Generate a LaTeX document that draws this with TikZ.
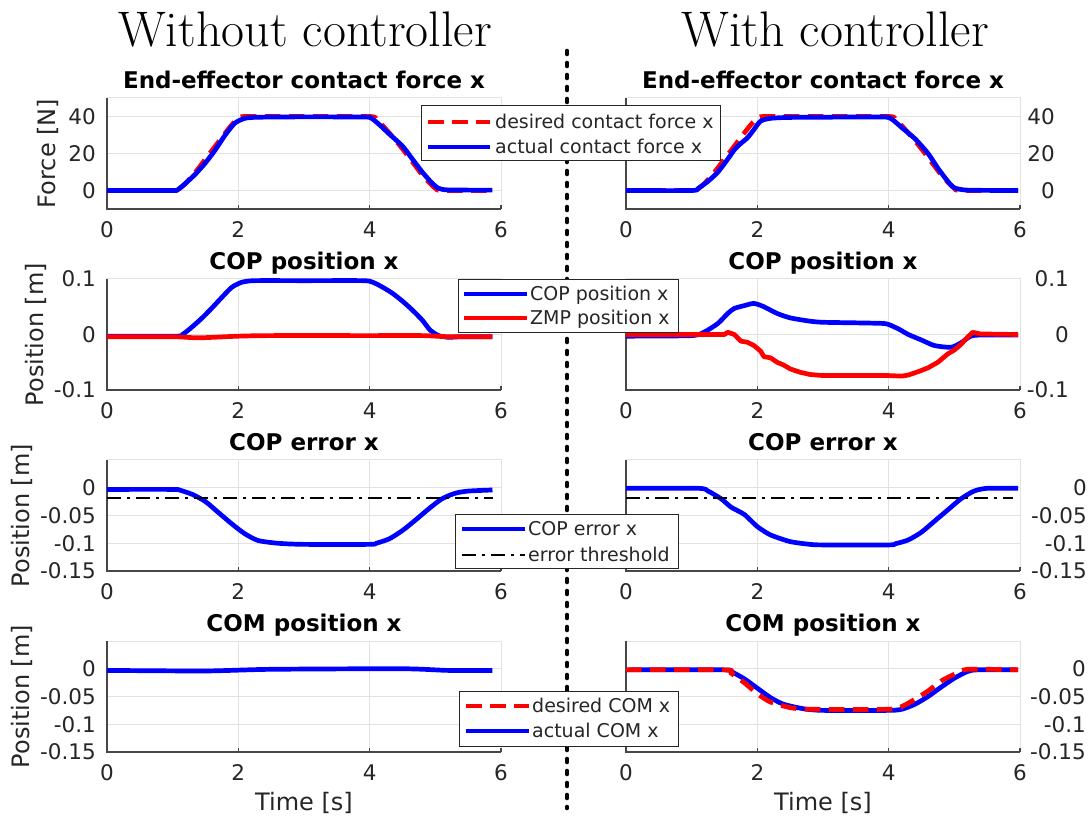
\documentclass[tikz,border=0pt]{standalone}
\usepackage{fontspec}
\newfontfamily\dv{DejaVu Sans}
\definecolor{axcol}{RGB}{38,38,38}
\definecolor{gridcol}{RGB}{226,226,226}
\definecolor{labcol}{RGB}{38,38,38}
\definecolor{mblue}{RGB}{0,0,255}
\definecolor{mred}{RGB}{255,0,0}
\tikzset{
  axline/.style={draw=axcol!85!white, line width=1.2pt},
  gridline/.style={draw=gridcol, line width=1pt},
  blueline/.style={draw=mblue, line width=4.7pt, line join=round},
  redline/.style={draw=mred, line width=4.7pt, line join=round},
  reddash/.style={draw=mred, line width=4.7pt, dash pattern=on 15.5pt off 8.5pt},
  dashdotline/.style={draw=black, line width=2pt, dash pattern=on 14pt off 6pt on 3pt off 6pt},
  sepline/.style={draw=black, line width=4.6pt, line cap=round, dash pattern=on 3pt off 9pt},
  legbox/.style={draw=axcol, fill=white, line width=1pt},
  ticklab/.style={font=\dv\fontsize{21.5}{25}\selectfont, text=labcol, inner sep=0pt},
  leglab/.style={font=\dv\fontsize{19}{22}\selectfont, text=labcol, inner sep=0pt, anchor=base west},
  axtitle/.style={font=\dv\bfseries\fontsize{23}{27}\selectfont, text=black, inner sep=0pt, anchor=base},
  axlabel/.style={font=\dv\fontsize{24}{28}\selectfont, text=labcol, inner sep=0pt, rotate=90},
  bigtitle/.style={font=\fontsize{50}{54}\selectfont, text=black, inner sep=0pt, anchor=base},
}
% #1 x0, #2 ytop, #3 ybot, #4 grid y list
\newcommand{\plotframe}[4]{%
  \foreach \gy in {#4} {\draw[gridline] (#1,\gy) -- (#1+394,\gy);}
  \draw[gridline] (#1+131.33,#2) -- (#1+131.33,#3);
  \draw[gridline] (#1+262.67,#2) -- (#1+262.67,#3);
  \draw[gridline] (#1,#2) -- (#1+394,#2) -- (#1+394,#3);
  \draw[axline] (#1,#2) -- (#1,#3) -- (#1+394,#3);
  \foreach \k in {0,131.33,262.67,394} {\draw[axline] (#1+\k,#3) -- (#1+\k,#3-4);}
}
% #1 name prefix, #2 x0, #3 ybot
\newcommand{\xticklabels}[3]{%
  \foreach \v [count=\i] in {0,2,4,6} {\node[ticklab] (#1x\i) at (#2+65.667*\v,#3+21) {\v};}
}
\begin{document}
\begin{tikzpicture}[x=1pt,y=-1pt]
\useasboundingbox (0,0) rectangle (1088,818);
\fill[white] (0,0) rectangle (1088,818);

% main titles
\node[bigtitle] (titleL) at (305,47) {Without controller};
\node[bigtitle] (titleR) at (835,47) {With controller};

% separator
\coordinate (sepTop) at (567,51);
\coordinate (sepBot) at (567,808);
\draw[sepline] (sepTop) -- (sepBot);

% ---------------- frames ----------------
\plotframe{107}{98}{209}{116.5,153.5,190.5}
\plotframe{626}{98}{209}{116.5,153.5,190.5}
\plotframe{107}{279}{390}{334.5}
\plotframe{626}{279}{390}{334.5}
\plotframe{107}{460}{571}{487.75,515.5,543.25}
\plotframe{626}{460}{571}{487.75,515.5,543.25}
\plotframe{107}{641}{752}{668.75,696.5,724.25}
\plotframe{626}{641}{752}{668.75,696.5,724.25}

% axis titles
\node[axtitle] (at1L) at (304,88.5) {End-effector contact force x};
\node[axtitle] (at1R) at (823,88.5) {End-effector contact force x};
\node[axtitle] (at2L) at (304,269.5) {COP position x};
\node[axtitle] (at2R) at (823,269.5) {COP position x};
\node[axtitle] (at3L) at (304,450.5) {COP error x};
\node[axtitle] (at3R) at (823,450.5) {COP error x};
\node[axtitle] (at4L) at (304,631.5) {COM position x};
\node[axtitle] (at4R) at (823,631.5) {COM position x};

% x tick labels
\xticklabels{p1L}{107}{209}
\xticklabels{p1R}{626}{209}
\xticklabels{p2L}{107}{390}
\xticklabels{p2R}{626}{390}
\xticklabels{p3L}{107}{571}
\xticklabels{p3R}{626}{571}
\xticklabels{p4L}{107}{752}
\xticklabels{p4R}{626}{752}

% y tick labels, left column
\foreach \lab/\yy [count=\i] in {40/116.5,20/153.5,0/190.5} {\node[ticklab,anchor=east] (y1L\i) at (96,\yy) {\lab};}
\foreach \lab/\yy [count=\i] in {0.1/279,0/334.5,-0.1/390} {\node[ticklab,anchor=east] (y2L\i) at (96,\yy) {\lab};}
\foreach \lab/\yy [count=\i] in {0/487.75,-0.05/515.5,-0.1/543.25,-0.15/571} {\node[ticklab,anchor=east] (y3L\i) at (96,\yy) {\lab};}
\foreach \lab/\yy [count=\i] in {0/668.75,-0.05/696.5,-0.1/724.25,-0.15/752} {\node[ticklab,anchor=east] (y4L\i) at (96,\yy) {\lab};}
% y tick labels, right column
\foreach \lab/\yy [count=\i] in {40/116.5,20/153.5,0/190.5} {\node[ticklab,anchor=east] (y1R\i) at (1055,\yy) {\lab};}
\foreach \lab/\yy [count=\i] in {0.1/279,0/334.5,-0.1/390} {\node[ticklab,anchor=east] (y2R\i) at (1069,\yy) {\lab};}
\foreach \lab/\yy [count=\i] in {0/487.75,-0.05/515.5,-0.1/543.25,-0.15/571} {\node[ticklab,anchor=east] (y3R\i) at (1087,\yy) {\lab};}
\foreach \lab/\yy [count=\i] in {0/668.75,-0.05/696.5,-0.1/724.25,-0.15/752} {\node[ticklab,anchor=east] (y4R\i) at (1086,\yy) {\lab};}

% y axis labels
\node[axlabel] (yl1) at (48,153.5) {Force [N]};
\node[axlabel] (yl2) at (36,334.5) {Position [m]};
\node[axlabel] (yl3) at (22,515.5) {Position [m]};
\node[axlabel] (yl4) at (22,696.5) {Position [m]};
% x axis labels
\node[axlabel,rotate=-90] (xlL) at (304,803) {Time [s]};
\node[axlabel,rotate=-90] (xlR) at (823,803) {Time [s]};

% ---------------- data: plot 1 ----------------
\begin{scope}[shift={(107,190.5)}, x=65.667pt, y=1.85pt]
\draw[reddash] plot[smooth,tension=0.4] coordinates {(0,0) (1.0,0) (1.1,1) (1.2,4) (1.35,10) (1.5,17) (1.65,24) (1.8,31) (1.9,35.5) (2.0,38.8) (2.1,40) (3.0,40) (4.0,40) (4.1,38.5) (4.2,35) (4.35,29) (4.5,22.5) (4.65,15.5) (4.8,8.5) (4.9,4.5) (5.0,1.2) (5.1,0) (5.87,0)};
\draw[blueline] plot[smooth,tension=0.4] coordinates {(0,0) (1.0,0) (1.08,0.5) (1.2,4) (1.35,9) (1.5,15) (1.65,22) (1.8,30) (1.95,36.5) (2.1,39) (2.3,39.6) (3.0,39.8) (3.9,39.7) (4.02,39.2) (4.15,35.5) (4.3,30.5) (4.5,24) (4.65,17) (4.8,10) (4.95,4) (5.05,1.2) (5.2,0.3) (5.87,0.2)};
\end{scope}
\begin{scope}[shift={(626,190.5)}, x=65.667pt, y=1.85pt]
\draw[reddash] plot[smooth,tension=0.4] coordinates {(0,0) (1.0,0) (1.1,1) (1.2,4) (1.35,10) (1.5,17) (1.65,24) (1.8,31) (1.9,35.5) (2.0,38.8) (2.1,40) (3.0,40) (4.0,40) (4.1,38.5) (4.2,35) (4.35,29) (4.5,22.5) (4.65,15.5) (4.8,8.5) (4.9,4.5) (5.0,1.2) (5.1,0) (5.97,0)};
\draw[blueline] plot[smooth,tension=0.4] coordinates {(0,0) (1.0,0) (1.1,1.2) (1.25,5) (1.4,10) (1.55,17) (1.65,22) (1.75,25.5) (1.85,28.5) (1.95,33) (2.05,37.5) (2.2,39) (2.5,39.5) (3.5,39.7) (3.95,39.7) (4.05,38.5) (4.2,34) (4.4,28) (4.6,20) (4.75,12) (4.9,5) (5.0,1.5) (5.2,0.2) (5.97,0)};
\end{scope}

% ---------------- data: plot 2 ----------------
\begin{scope}[shift={(107,334.5)}, x=65.667pt, y=555pt]
\draw[blueline] plot[smooth,tension=0.4] coordinates {(0,-0.003) (1.05,-0.003) (1.15,0.0) (1.3,0.014) (1.45,0.03) (1.6,0.048) (1.75,0.067) (1.9,0.085) (2.05,0.094) (2.25,0.097) (3.0,0.097) (3.9,0.097) (4.05,0.094) (4.2,0.085) (4.35,0.074) (4.5,0.06) (4.65,0.044) (4.8,0.026) (4.92,0.008) (5.05,-0.002) (5.2,-0.005) (5.4,-0.004) (5.87,-0.004)};
\draw[redline] plot[smooth,tension=0.4] coordinates {(0,-0.004) (1.0,-0.004) (1.4,-0.006) (2.0,-0.003) (2.5,-0.002) (4.0,-0.002) (4.8,-0.002) (5.2,-0.004) (5.87,-0.004)};
\end{scope}
\begin{scope}[shift={(626,334.5)}, x=65.667pt, y=555pt]
\draw[blueline] plot[smooth,tension=0.4] coordinates {(0,-0.003) (1.0,-0.002) (1.2,0.005) (1.4,0.02) (1.55,0.038) (1.65,0.047) (1.8,0.052) (1.95,0.056) (2.1,0.05) (2.3,0.038) (2.5,0.03) (2.8,0.024) (3.0,0.022) (3.5,0.021) (3.9,0.02) (4.0,0.018) (4.15,0.01) (4.3,0.0) (4.5,-0.01) (4.7,-0.02) (4.95,-0.023) (5.1,-0.015) (5.25,-0.003) (5.4,-0.001) (5.97,-0.001)};
\draw[redline] (0,0) -- (1.5,0) -- (1.55,0.004) -- (1.65,0.0) -- (1.75,-0.012) -- (1.85,-0.014) -- (1.95,-0.02) -- (2.05,-0.03) -- (2.1,-0.04) -- (2.2,-0.042) -- (2.3,-0.05) -- (2.4,-0.055) -- (2.5,-0.062) -- (2.65,-0.068) -- (2.8,-0.072) -- (3.0,-0.074) -- (4.0,-0.074) -- (4.2,-0.075) -- (4.3,-0.073) -- (4.45,-0.067) -- (4.6,-0.06) -- (4.75,-0.05) -- (4.9,-0.035) -- (5.0,-0.028) -- (5.1,-0.018) -- (5.2,-0.005) -- (5.28,0.004) -- (5.4,0.001) -- (5.97,0.0);
\end{scope}

% ---------------- data: plot 3 ----------------
\begin{scope}[shift={(107,487.75)}, x=65.667pt, y=555pt]
\draw[blueline] plot[smooth,tension=0.4] coordinates {(0,-0.003) (1.0,-0.003) (1.1,-0.004) (1.3,-0.012) (1.5,-0.025) (1.7,-0.045) (1.9,-0.065) (2.1,-0.083) (2.3,-0.095) (2.6,-0.1) (3.0,-0.102) (4.0,-0.102) (4.1,-0.1) (4.3,-0.092) (4.5,-0.077) (4.7,-0.058) (4.9,-0.038) (5.1,-0.02) (5.3,-0.01) (5.5,-0.006) (5.87,-0.004)};
\draw[dashdotline] (0,-0.018) -- (5.88,-0.018);
\end{scope}
\begin{scope}[shift={(626,487.75)}, x=65.667pt, y=555pt]
\draw[blueline] plot[smooth,tension=0.4] coordinates {(0,-0.001) (1.1,-0.001) (1.25,-0.006) (1.45,-0.02) (1.6,-0.035) (1.8,-0.048) (2.0,-0.07) (2.2,-0.085) (2.5,-0.097) (2.8,-0.102) (3.0,-0.103) (4.0,-0.103) (4.1,-0.101) (4.3,-0.094) (4.5,-0.08) (4.7,-0.06) (4.9,-0.04) (5.1,-0.02) (5.3,-0.006) (5.5,-0.001) (5.97,-0.001)};
\draw[dashdotline] (0,-0.018) -- (5.9,-0.018);
\end{scope}

% ---------------- data: plot 4 ----------------
\begin{scope}[shift={(107,668.75)}, x=65.667pt, y=555pt]
\draw[blueline] plot[smooth,tension=0.4] coordinates {(0,-0.003) (1.5,-0.004) (2.5,-0.001) (4.5,0.0) (5.2,-0.003) (5.87,-0.003)};
\end{scope}
\begin{scope}[shift={(626,668.75)}, x=65.667pt, y=555pt]
\draw[blueline] plot[smooth,tension=0.4] coordinates {(0,-0.002) (1.5,-0.002) (1.6,-0.005) (1.8,-0.018) (2.0,-0.035) (2.2,-0.052) (2.4,-0.064) (2.7,-0.072) (3.0,-0.075) (4.0,-0.075) (4.2,-0.073) (4.4,-0.064) (4.6,-0.05) (4.8,-0.033) (5.0,-0.017) (5.2,-0.005) (5.35,-0.002) (5.97,-0.002)};
\draw[reddash] plot[smooth,tension=0.4] coordinates {(0,-0.002) (1.5,-0.002) (1.6,-0.008) (1.8,-0.025) (2.0,-0.045) (2.2,-0.06) (2.5,-0.07) (2.8,-0.073) (4.0,-0.073) (4.2,-0.068) (4.4,-0.055) (4.6,-0.04) (4.8,-0.022) (5.0,-0.01) (5.2,-0.001) (5.97,-0.002)};
\end{scope}

% ---------------- legends ----------------
\node[legbox, minimum width=299pt, minimum height=55pt, anchor=north west, inner sep=0pt] (leg1) at (421,105) {};
\draw[reddash] (428,122) -- (490,122);
\draw[blueline] (428,147) -- (490,147);
\node[leglab] (leg1a) at (495,128.5) {desired contact force x};
\node[leglab] (leg1b) at (495,153.5) {actual contact force x};

\node[legbox, minimum width=220pt, minimum height=53pt, anchor=north west, inner sep=0pt] (leg2) at (458,279) {};
\draw[blueline] (464,294) -- (527,294);
\draw[redline] (464,318) -- (527,318);
\node[leglab] (leg2a) at (530,300.5) {COP position x};
\node[leglab] (leg2b) at (530,324.5) {ZMP position x};

\node[legbox, minimum width=223pt, minimum height=54pt, anchor=north west, inner sep=0pt] (leg3) at (455,514) {};
\draw[blueline] (462,529) -- (525,529);
\draw[dashdotline] (462,555) -- (525,555);
\node[leglab] (leg3a) at (528,535.5) {COP error x};
\node[leglab] (leg3b) at (528,561.5) {error threshold};

\node[legbox, minimum width=219pt, minimum height=55pt, anchor=north west, inner sep=0pt] (leg4) at (459,691) {};
\draw[reddash] (466,706) -- (529,706);
\draw[blueline] (466,731) -- (529,731);
\node[leglab] (leg4a) at (532,712.5) {desired COM x};
\node[leglab] (leg4b) at (532,737.5) {actual COM x};
\end{tikzpicture}
\end{document}
